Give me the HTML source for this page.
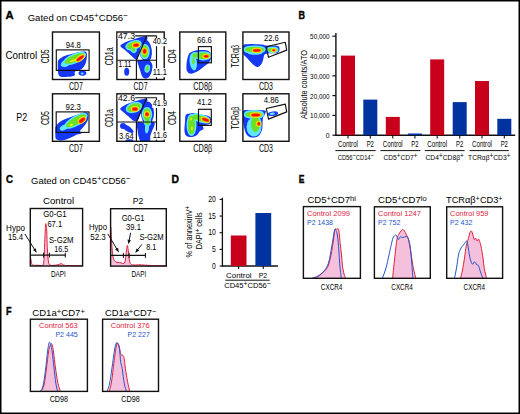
<!DOCTYPE html>
<html><head><meta charset="utf-8"><style>
html,body{margin:0;padding:0;background:#fff;}
body{width:520px;height:414px;overflow:hidden;}
svg{display:block;}
text{font-family:"Liberation Sans",sans-serif;}
</style></head><body>
<svg width="520" height="414" viewBox="0 0 520 414">
<defs><filter id="soft" x="-5%" y="-5%" width="110%" height="110%"><feGaussianBlur stdDeviation="0.45"/></filter><clipPath id="a00"><rect x="52.50" y="32.00" width="46.90" height="47.50"/></clipPath><clipPath id="a01"><rect x="116.90" y="32.00" width="47.30" height="47.50"/></clipPath><clipPath id="a02"><rect x="179.80" y="32.00" width="46.00" height="47.50"/></clipPath><clipPath id="a03"><rect x="242.90" y="32.00" width="46.10" height="47.50"/></clipPath><clipPath id="a10"><rect x="52.50" y="93.80" width="46.90" height="47.50"/></clipPath><clipPath id="a11"><rect x="116.90" y="93.80" width="47.30" height="47.50"/></clipPath><clipPath id="a12"><rect x="179.80" y="93.80" width="46.00" height="47.50"/></clipPath><clipPath id="a13"><rect x="242.90" y="93.80" width="46.10" height="47.50"/></clipPath></defs>
<rect x="0" y="0" width="520" height="414" fill="#fff"/>
<text x="5.40" y="18.80" font-size="10.40" textLength="8.10" lengthAdjust="spacingAndGlyphs" fill="#000" font-weight="bold" stroke="#000" stroke-width="0.35">A</text><text x="27.70" y="21.00" font-size="9.50" textLength="100.20" lengthAdjust="spacingAndGlyphs">Gated on CD45<tspan font-size="85%" baseline-shift="2.57px">+</tspan>CD56<tspan font-size="85%" baseline-shift="2.57px">−</tspan></text><text x="5.50" y="59.10" font-size="10.00" textLength="31.70" lengthAdjust="spacingAndGlyphs">Control</text><text x="16.20" y="121.10" font-size="10.80" textLength="10.90" lengthAdjust="spacingAndGlyphs">P2</text><g filter="url(#soft)" clip-path="url(#a00)"><path d="M58.30 60.30 C58.95 58.87 60.42 58.20 61.70 57.40 C62.98 56.60 64.40 56.07 66.00 55.50 C67.60 54.93 69.13 54.57 71.30 54.00 C73.47 53.43 76.73 52.50 79.00 52.10 C81.27 51.70 83.60 51.32 84.90 51.60 C86.20 51.88 86.52 52.52 86.80 53.80 C87.08 55.08 86.92 57.42 86.60 59.30 C86.28 61.18 85.83 63.40 84.90 65.10 C83.97 66.80 82.65 68.43 81.00 69.50 C79.35 70.57 76.08 70.50 75.00 71.50 C73.92 72.50 75.67 74.62 74.50 75.50 C73.33 76.38 70.42 76.63 68.00 76.80 C65.58 76.97 61.67 77.30 60.00 76.50 C58.33 75.70 58.37 73.75 58.00 72.00 C57.63 70.25 57.75 67.95 57.80 66.00 C57.85 64.05 57.65 61.73 58.30 60.30Z" fill="#1438f5"/><ellipse cx="82.40" cy="73.10" rx="3.90" ry="2.70" fill="#1438f5"/><ellipse cx="74.60" cy="58.50" rx="10.80" ry="3.50" transform="rotate(-23.0 74.60 58.50)" fill="#60e6ff" stroke="#60e6ff" stroke-width="2.80" stroke-linejoin="round"/><ellipse cx="65.50" cy="63.50" rx="5.00" ry="3.20" transform="rotate(-25.0 65.50 63.50)" fill="#60e6ff"/><ellipse cx="82.20" cy="73.50" rx="1.60" ry="1.10" fill="#60e6ff"/><ellipse cx="74.60" cy="58.50" rx="10.80" ry="3.50" transform="rotate(-23.0 74.60 58.50)" fill="#6ce020"/><ellipse cx="73.00" cy="60.60" rx="3.50" ry="1.00" transform="rotate(-20.0 73.00 60.60)" fill="#f2ee00"/><ellipse cx="80.20" cy="58.20" rx="4.20" ry="1.20" transform="rotate(-36.0 80.20 58.20)" fill="#f2ee00" stroke="#f2ee00" stroke-width="3.00" stroke-linejoin="round"/><ellipse cx="80.20" cy="58.20" rx="4.20" ry="1.20" transform="rotate(-36.0 80.20 58.20)" fill="#ff8400" stroke="#ff8400" stroke-width="1.50" stroke-linejoin="round"/><ellipse cx="80.20" cy="58.20" rx="4.20" ry="1.20" transform="rotate(-36.0 80.20 58.20)" fill="#ff0a00"/></g><g filter="url(#soft)" clip-path="url(#a10)"><path d="M55.50 127.00 C55.95 125.75 56.92 124.58 58.00 123.50 C59.08 122.42 60.33 121.42 62.00 120.50 C63.67 119.58 65.83 118.83 68.00 118.00 C70.17 117.17 72.83 116.25 75.00 115.50 C77.17 114.75 79.17 114.03 81.00 113.50 C82.83 112.97 84.83 112.30 86.00 112.30 C87.17 112.30 87.62 112.72 88.00 113.50 C88.38 114.28 88.38 115.75 88.30 117.00 C88.22 118.25 88.05 119.67 87.50 121.00 C86.95 122.33 85.92 123.75 85.00 125.00 C84.08 126.25 82.83 127.50 82.00 128.50 C81.17 129.50 80.08 130.17 80.00 131.00 C79.92 131.83 82.00 132.92 81.50 133.50 C81.00 134.08 78.58 133.92 77.00 134.50 C75.42 135.08 73.83 136.17 72.00 137.00 C70.17 137.83 68.00 138.92 66.00 139.50 C64.00 140.08 61.67 140.58 60.00 140.50 C58.33 140.42 56.78 139.92 56.00 139.00 C55.22 138.08 55.42 136.33 55.30 135.00 C55.18 133.67 55.27 132.33 55.30 131.00 C55.33 129.67 55.05 128.25 55.50 127.00Z" fill="#1438f5"/><ellipse cx="76.00" cy="120.80" rx="11.50" ry="3.60" transform="rotate(-30.0 76.00 120.80)" fill="#60e6ff" stroke="#60e6ff" stroke-width="2.80" stroke-linejoin="round"/><ellipse cx="64.00" cy="127.50" rx="4.50" ry="2.60" transform="rotate(-28.0 64.00 127.50)" fill="#60e6ff"/><ellipse cx="76.00" cy="120.80" rx="11.50" ry="3.60" transform="rotate(-30.0 76.00 120.80)" fill="#6ce020"/><ellipse cx="71.30" cy="124.80" rx="1.80" ry="1.20" transform="rotate(-20.0 71.30 124.80)" fill="#f2ee00"/><ellipse cx="82.00" cy="120.20" rx="3.40" ry="1.50" transform="rotate(-38.0 82.00 120.20)" fill="#f2ee00" stroke="#f2ee00" stroke-width="3.00" stroke-linejoin="round"/><ellipse cx="82.00" cy="120.20" rx="3.40" ry="1.50" transform="rotate(-38.0 82.00 120.20)" fill="#ff8400" stroke="#ff8400" stroke-width="1.50" stroke-linejoin="round"/><ellipse cx="82.00" cy="120.20" rx="3.40" ry="1.50" transform="rotate(-38.0 82.00 120.20)" fill="#ff0a00"/></g><g filter="url(#soft)" clip-path="url(#a01)"><path d="M120.60 45.30 C121.35 44.38 123.77 43.02 126.00 42.00 C128.23 40.98 131.50 40.03 134.00 39.20 C136.50 38.37 138.92 37.47 141.00 37.00 C143.08 36.53 145.50 35.90 146.50 36.40 C147.50 36.90 148.08 37.73 147.00 40.00 C145.92 42.27 141.58 46.92 140.00 50.00 C138.42 53.08 138.33 57.00 137.50 58.50 C136.67 60.00 136.25 59.67 135.00 59.00 C133.75 58.33 131.67 56.00 130.00 54.50 C128.33 53.00 126.42 51.17 125.00 50.00 C123.58 48.83 122.23 48.28 121.50 47.50 C120.77 46.72 119.85 46.22 120.60 45.30Z" fill="#1438f5"/><ellipse cx="145.50" cy="50.50" rx="6.30" ry="11.50" transform="rotate(-8.0 145.50 50.50)" fill="#1438f5"/><path d="M137.50 60.30 C138.33 59.68 140.92 60.18 143.00 60.30 C145.08 60.42 148.42 60.05 150.00 61.00 C151.58 61.95 152.25 64.17 152.50 66.00 C152.75 67.83 152.08 70.17 151.50 72.00 C150.92 73.83 150.08 75.92 149.00 77.00 C147.92 78.08 146.17 78.67 145.00 78.50 C143.83 78.33 142.83 77.42 142.00 76.00 C141.17 74.58 140.67 72.00 140.00 70.00 C139.33 68.00 138.42 65.62 138.00 64.00 C137.58 62.38 136.67 60.92 137.50 60.30Z" fill="#1438f5"/><ellipse cx="126.70" cy="71.80" rx="2.50" ry="4.00" fill="#1438f5"/><ellipse cx="133.50" cy="45.20" rx="7.00" ry="3.40" transform="rotate(-18.0 133.50 45.20)" fill="#60e6ff" stroke="#60e6ff" stroke-width="2.80" stroke-linejoin="round"/><ellipse cx="144.80" cy="51.50" rx="3.60" ry="6.30" fill="#60e6ff" stroke="#60e6ff" stroke-width="2.80" stroke-linejoin="round"/><ellipse cx="147.30" cy="68.60" rx="1.40" ry="2.80" transform="rotate(10.0 147.30 68.60)" fill="#60e6ff" stroke="#60e6ff" stroke-width="2.80" stroke-linejoin="round"/><ellipse cx="133.50" cy="50.00" rx="2.00" ry="1.50" transform="rotate(30.0 133.50 50.00)" fill="#60e6ff" stroke="#60e6ff" stroke-width="2.80" stroke-linejoin="round"/><ellipse cx="133.50" cy="45.20" rx="7.00" ry="3.40" transform="rotate(-18.0 133.50 45.20)" fill="#6ce020"/><ellipse cx="144.80" cy="51.50" rx="3.60" ry="6.30" fill="#6ce020"/><ellipse cx="147.30" cy="68.60" rx="1.40" ry="2.80" transform="rotate(10.0 147.30 68.60)" fill="#6ce020"/><ellipse cx="133.50" cy="50.00" rx="2.00" ry="1.50" transform="rotate(30.0 133.50 50.00)" fill="#6ce020"/><ellipse cx="136.00" cy="45.20" rx="2.80" ry="1.30" transform="rotate(-5.0 136.00 45.20)" fill="#f2ee00" stroke="#f2ee00" stroke-width="3.00" stroke-linejoin="round"/><ellipse cx="144.60" cy="51.20" rx="1.50" ry="2.20" fill="#f2ee00" stroke="#f2ee00" stroke-width="3.00" stroke-linejoin="round"/><ellipse cx="136.00" cy="45.20" rx="2.80" ry="1.30" transform="rotate(-5.0 136.00 45.20)" fill="#ff8400" stroke="#ff8400" stroke-width="1.50" stroke-linejoin="round"/><ellipse cx="144.60" cy="51.20" rx="1.50" ry="2.20" fill="#ff8400" stroke="#ff8400" stroke-width="1.50" stroke-linejoin="round"/><ellipse cx="136.00" cy="45.20" rx="2.80" ry="1.30" transform="rotate(-5.0 136.00 45.20)" fill="#ff0a00"/><ellipse cx="144.60" cy="51.20" rx="1.50" ry="2.20" fill="#ff0a00"/></g><g filter="url(#soft)" clip-path="url(#a11)"><path d="M120.40 108.30 C121.07 107.22 123.73 105.63 126.00 104.50 C128.27 103.37 131.50 102.33 134.00 101.50 C136.50 100.67 138.92 100.00 141.00 99.50 C143.08 99.00 145.50 98.08 146.50 98.50 C147.50 98.92 147.92 99.75 147.00 102.00 C146.08 104.25 142.50 109.00 141.00 112.00 C139.50 115.00 139.17 118.50 138.00 120.00 C136.83 121.50 135.67 121.67 134.00 121.00 C132.33 120.33 130.00 117.67 128.00 116.00 C126.00 114.33 123.27 112.28 122.00 111.00 C120.73 109.72 119.73 109.38 120.40 108.30Z" fill="#1438f5"/><ellipse cx="147.50" cy="113.00" rx="6.50" ry="11.50" fill="#1438f5"/><path d="M137.20 122.50 C138.45 121.25 142.20 122.58 145.00 122.50 C147.80 122.42 152.47 121.42 154.00 122.00 C155.53 122.58 154.53 124.50 154.20 126.00 C153.87 127.50 152.65 129.33 152.00 131.00 C151.35 132.67 150.72 134.25 150.30 136.00 C149.88 137.75 151.05 140.58 149.50 141.50 C147.95 142.42 142.83 142.42 141.00 141.50 C139.17 140.58 139.08 137.92 138.50 136.00 C137.92 134.08 137.72 132.25 137.50 130.00 C137.28 127.75 135.95 123.75 137.20 122.50Z" fill="#1438f5"/><ellipse cx="127.50" cy="128.50" rx="7.00" ry="2.60" transform="rotate(33.0 127.50 128.50)" fill="#1438f5"/><ellipse cx="123.00" cy="126.00" rx="3.00" ry="3.00" fill="#1438f5"/><ellipse cx="129.50" cy="140.50" rx="4.00" ry="1.20" fill="#1438f5"/><ellipse cx="134.00" cy="107.50" rx="7.20" ry="3.80" transform="rotate(-18.0 134.00 107.50)" fill="#60e6ff" stroke="#60e6ff" stroke-width="2.80" stroke-linejoin="round"/><ellipse cx="147.00" cy="114.50" rx="3.80" ry="6.20" fill="#60e6ff" stroke="#60e6ff" stroke-width="2.80" stroke-linejoin="round"/><ellipse cx="147.50" cy="122.00" rx="2.20" ry="3.00" fill="#60e6ff" stroke="#60e6ff" stroke-width="2.80" stroke-linejoin="round"/><ellipse cx="147.00" cy="128.00" rx="2.00" ry="5.50" transform="rotate(5.0 147.00 128.00)" fill="#60e6ff"/><ellipse cx="134.00" cy="107.50" rx="7.20" ry="3.80" transform="rotate(-18.0 134.00 107.50)" fill="#6ce020"/><ellipse cx="147.00" cy="114.50" rx="3.80" ry="6.20" fill="#6ce020"/><ellipse cx="147.50" cy="122.00" rx="2.20" ry="3.00" fill="#6ce020"/><ellipse cx="134.90" cy="108.90" rx="2.60" ry="1.50" fill="#f2ee00" stroke="#f2ee00" stroke-width="3.00" stroke-linejoin="round"/><ellipse cx="147.00" cy="114.30" rx="1.50" ry="1.80" fill="#f2ee00" stroke="#f2ee00" stroke-width="3.00" stroke-linejoin="round"/><ellipse cx="134.90" cy="108.90" rx="2.60" ry="1.50" fill="#ff8400" stroke="#ff8400" stroke-width="1.50" stroke-linejoin="round"/><ellipse cx="147.00" cy="114.30" rx="1.50" ry="1.80" fill="#ff8400" stroke="#ff8400" stroke-width="1.50" stroke-linejoin="round"/><ellipse cx="134.90" cy="108.90" rx="2.60" ry="1.50" fill="#ff0a00"/><ellipse cx="147.00" cy="114.30" rx="1.50" ry="1.80" fill="#ff0a00"/></g><g filter="url(#soft)" clip-path="url(#a02)"><path d="M191.00 52.30 C192.17 51.72 194.00 50.88 196.00 50.50 C198.00 50.12 201.00 49.95 203.00 50.00 C205.00 50.05 206.67 50.13 208.00 50.80 C209.33 51.47 210.50 52.80 211.00 54.00 C211.50 55.20 211.33 56.58 211.00 58.00 C210.67 59.42 210.17 61.08 209.00 62.50 C207.83 63.92 205.83 65.08 204.00 66.50 C202.17 67.92 200.17 69.78 198.00 71.00 C195.83 72.22 192.83 73.80 191.00 73.80 C189.17 73.80 187.75 72.47 187.00 71.00 C186.25 69.53 186.42 67.17 186.50 65.00 C186.58 62.83 187.08 59.83 187.50 58.00 C187.92 56.17 188.42 54.95 189.00 54.00 C189.58 53.05 189.83 52.88 191.00 52.30Z" fill="#1438f5"/><ellipse cx="203.20" cy="55.80" rx="7.00" ry="3.20" fill="#60e6ff" stroke="#60e6ff" stroke-width="2.80" stroke-linejoin="round"/><ellipse cx="195.00" cy="55.50" rx="2.60" ry="2.20" fill="#60e6ff" stroke="#60e6ff" stroke-width="2.80" stroke-linejoin="round"/><ellipse cx="193.50" cy="61.00" rx="1.20" ry="3.50" fill="#60e6ff" stroke="#60e6ff" stroke-width="2.80" stroke-linejoin="round"/><ellipse cx="193.20" cy="62.00" rx="3.60" ry="8.50" transform="rotate(-8.0 193.20 62.00)" fill="#60e6ff"/><ellipse cx="203.20" cy="55.80" rx="7.00" ry="3.20" fill="#6ce020"/><ellipse cx="195.00" cy="55.50" rx="2.60" ry="2.20" fill="#6ce020"/><ellipse cx="193.50" cy="61.00" rx="1.20" ry="3.50" fill="#6ce020"/><ellipse cx="206.20" cy="56.30" rx="2.30" ry="1.10" fill="#f2ee00" stroke="#f2ee00" stroke-width="3.00" stroke-linejoin="round"/><ellipse cx="206.20" cy="56.30" rx="2.30" ry="1.10" fill="#ff8400" stroke="#ff8400" stroke-width="1.50" stroke-linejoin="round"/><ellipse cx="206.20" cy="56.30" rx="2.30" ry="1.10" fill="#ff0a00"/></g><g filter="url(#soft)" clip-path="url(#a12)"><path d="M185.80 115.00 C186.63 113.58 188.30 113.75 190.00 113.50 C191.70 113.25 194.17 113.25 196.00 113.50 C197.83 113.75 199.17 114.67 201.00 115.00 C202.83 115.33 205.33 115.00 207.00 115.50 C208.67 116.00 210.25 116.92 211.00 118.00 C211.75 119.08 212.00 120.92 211.50 122.00 C211.00 123.08 209.42 123.92 208.00 124.50 C206.58 125.08 203.75 124.75 203.00 125.50 C202.25 126.25 204.00 128.08 203.50 129.00 C203.00 129.92 201.08 130.00 200.00 131.00 C198.92 132.00 198.33 134.00 197.00 135.00 C195.67 136.00 193.75 136.83 192.00 137.00 C190.25 137.17 187.75 137.00 186.50 136.00 C185.25 135.00 184.75 133.33 184.50 131.00 C184.25 128.67 184.78 124.67 185.00 122.00 C185.22 119.33 184.97 116.42 185.80 115.00Z" fill="#1438f5"/><ellipse cx="191.50" cy="125.00" rx="3.60" ry="9.50" fill="#60e6ff" stroke="#60e6ff" stroke-width="2.80" stroke-linejoin="round"/><ellipse cx="202.00" cy="118.80" rx="7.00" ry="2.80" transform="rotate(15.0 202.00 118.80)" fill="#60e6ff" stroke="#60e6ff" stroke-width="2.80" stroke-linejoin="round"/><ellipse cx="196.00" cy="117.00" rx="3.00" ry="2.50" fill="#60e6ff" stroke="#60e6ff" stroke-width="2.80" stroke-linejoin="round"/><ellipse cx="191.50" cy="125.00" rx="3.60" ry="9.50" fill="#6ce020"/><ellipse cx="202.00" cy="118.80" rx="7.00" ry="2.80" transform="rotate(15.0 202.00 118.80)" fill="#6ce020"/><ellipse cx="196.00" cy="117.00" rx="3.00" ry="2.50" fill="#6ce020"/><ellipse cx="191.00" cy="119.00" rx="0.90" ry="1.50" fill="#f2ee00"/><ellipse cx="192.00" cy="128.50" rx="0.90" ry="2.00" fill="#f2ee00"/><ellipse cx="205.60" cy="119.80" rx="3.40" ry="1.30" transform="rotate(20.0 205.60 119.80)" fill="#f2ee00" stroke="#f2ee00" stroke-width="3.00" stroke-linejoin="round"/><ellipse cx="205.60" cy="119.80" rx="3.40" ry="1.30" transform="rotate(20.0 205.60 119.80)" fill="#ff8400" stroke="#ff8400" stroke-width="1.50" stroke-linejoin="round"/><ellipse cx="205.60" cy="119.80" rx="3.40" ry="1.30" transform="rotate(20.0 205.60 119.80)" fill="#ff0a00"/></g><g filter="url(#soft)" clip-path="url(#a03)"><path d="M243.00 45.50 C243.75 43.87 246.00 44.42 248.00 44.20 C250.00 43.98 252.67 44.15 255.00 44.20 C257.33 44.25 260.17 44.27 262.00 44.50 C263.83 44.73 264.33 45.43 266.00 45.60 C267.67 45.77 270.00 45.43 272.00 45.50 C274.00 45.57 276.75 45.50 278.00 46.00 C279.25 46.50 279.33 47.58 279.50 48.50 C279.67 49.42 279.58 50.72 279.00 51.50 C278.42 52.28 277.83 52.88 276.00 53.20 C274.17 53.52 269.92 53.18 268.00 53.40 C266.08 53.62 265.25 53.73 264.50 54.50 C263.75 55.27 263.92 56.58 263.50 58.00 C263.08 59.42 262.83 61.53 262.00 63.00 C261.17 64.47 259.67 66.30 258.50 66.80 C257.33 67.30 256.25 66.72 255.00 66.00 C253.75 65.28 252.33 63.83 251.00 62.50 C249.67 61.17 248.25 59.42 247.00 58.00 C245.75 56.58 244.17 56.08 243.50 54.00 C242.83 51.92 242.25 47.13 243.00 45.50Z" fill="#1438f5"/><ellipse cx="254.50" cy="49.60" rx="9.80" ry="2.80" fill="#60e6ff" stroke="#60e6ff" stroke-width="2.80" stroke-linejoin="round"/><ellipse cx="272.50" cy="49.80" rx="4.60" ry="2.00" fill="#60e6ff" stroke="#60e6ff" stroke-width="2.80" stroke-linejoin="round"/><ellipse cx="255.00" cy="53.00" rx="7.00" ry="1.80" fill="#60e6ff"/><ellipse cx="254.50" cy="49.60" rx="9.80" ry="2.80" fill="#6ce020"/><ellipse cx="272.50" cy="49.80" rx="4.60" ry="2.00" fill="#6ce020"/><ellipse cx="256.80" cy="50.40" rx="3.60" ry="1.10" fill="#f2ee00" stroke="#f2ee00" stroke-width="3.00" stroke-linejoin="round"/><ellipse cx="273.80" cy="50.20" rx="1.30" ry="0.80" fill="#f2ee00" stroke="#f2ee00" stroke-width="3.00" stroke-linejoin="round"/><ellipse cx="256.80" cy="50.40" rx="3.60" ry="1.10" fill="#ff8400" stroke="#ff8400" stroke-width="1.50" stroke-linejoin="round"/><ellipse cx="273.80" cy="50.20" rx="1.30" ry="0.80" fill="#ff8400" stroke="#ff8400" stroke-width="1.50" stroke-linejoin="round"/><ellipse cx="256.80" cy="50.40" rx="3.60" ry="1.10" fill="#ff0a00"/><ellipse cx="273.80" cy="50.20" rx="1.30" ry="0.80" fill="#ff0a00"/></g><g filter="url(#soft)" clip-path="url(#a13)"><path d="M243.00 111.00 C244.17 109.35 247.50 110.25 250.00 110.10 C252.50 109.95 255.43 109.98 258.00 110.10 C260.57 110.22 264.23 110.15 265.40 110.80 C266.57 111.45 265.40 112.80 265.00 114.00 C264.60 115.20 263.42 116.33 263.00 118.00 C262.58 119.67 262.67 122.00 262.50 124.00 C262.33 126.00 262.67 128.00 262.00 130.00 C261.33 132.00 260.17 134.75 258.50 136.00 C256.83 137.25 253.92 137.67 252.00 137.50 C250.08 137.33 248.25 136.42 247.00 135.00 C245.75 133.58 245.17 131.50 244.50 129.00 C243.83 126.50 243.25 123.00 243.00 120.00 C242.75 117.00 241.83 112.65 243.00 111.00Z" fill="#1438f5"/><ellipse cx="273.00" cy="113.70" rx="5.20" ry="2.20" transform="rotate(-8.0 273.00 113.70)" fill="#1438f5"/><ellipse cx="254.00" cy="114.50" rx="8.80" ry="3.00" fill="#60e6ff" stroke="#60e6ff" stroke-width="2.80" stroke-linejoin="round"/><ellipse cx="255.50" cy="124.00" rx="4.50" ry="8.00" fill="#60e6ff" stroke="#60e6ff" stroke-width="2.80" stroke-linejoin="round"/><ellipse cx="272.30" cy="113.70" rx="2.60" ry="1.20" transform="rotate(-8.0 272.30 113.70)" fill="#60e6ff"/><ellipse cx="254.00" cy="127.00" rx="7.50" ry="9.50" fill="#60e6ff"/><ellipse cx="254.00" cy="114.50" rx="8.80" ry="3.00" fill="#6ce020"/><ellipse cx="255.50" cy="124.00" rx="4.50" ry="8.00" fill="#6ce020"/><ellipse cx="255.70" cy="115.00" rx="4.40" ry="1.30" fill="#f2ee00" stroke="#f2ee00" stroke-width="3.00" stroke-linejoin="round"/><ellipse cx="258.80" cy="123.80" rx="1.20" ry="1.50" fill="#f2ee00" stroke="#f2ee00" stroke-width="3.00" stroke-linejoin="round"/><ellipse cx="255.70" cy="115.00" rx="4.40" ry="1.30" fill="#ff8400" stroke="#ff8400" stroke-width="1.50" stroke-linejoin="round"/><ellipse cx="258.80" cy="123.80" rx="1.20" ry="1.50" fill="#ff8400" stroke="#ff8400" stroke-width="1.50" stroke-linejoin="round"/><ellipse cx="255.70" cy="115.00" rx="4.40" ry="1.30" fill="#ff0a00"/><ellipse cx="258.80" cy="123.80" rx="1.20" ry="1.50" fill="#ff0a00"/></g><rect x="52.50" y="32.00" width="46.90" height="47.50" fill="none" stroke="#111" stroke-width="1.40"/><text x="75.95" y="90.30" font-size="10.20" text-anchor="middle" textLength="13.90" lengthAdjust="spacingAndGlyphs">CD7</text><text transform="translate(48.60 56.30) rotate(-90)" font-size="10.20" text-anchor="middle" textLength="14.00" lengthAdjust="spacingAndGlyphs">CD5</text><rect x="116.90" y="32.00" width="47.30" height="47.50" fill="none" stroke="#111" stroke-width="1.40"/><text x="140.55" y="90.30" font-size="10.20" text-anchor="middle" textLength="13.90" lengthAdjust="spacingAndGlyphs">CD7</text><text transform="translate(113.00 56.30) rotate(-90)" font-size="10.20" text-anchor="middle" textLength="18.00" lengthAdjust="spacingAndGlyphs">CD1a</text><rect x="179.80" y="32.00" width="46.00" height="47.50" fill="none" stroke="#111" stroke-width="1.40"/><text x="202.80" y="90.30" font-size="10.20" text-anchor="middle" textLength="19.00" lengthAdjust="spacingAndGlyphs">CD8β</text><text transform="translate(175.90 56.30) rotate(-90)" font-size="10.20" text-anchor="middle" textLength="14.00" lengthAdjust="spacingAndGlyphs">CD4</text><rect x="242.90" y="32.00" width="46.10" height="47.50" fill="none" stroke="#111" stroke-width="1.40"/><text x="265.95" y="90.30" font-size="10.20" text-anchor="middle" textLength="14.00" lengthAdjust="spacingAndGlyphs">CD3</text><text transform="translate(239.00 56.30) rotate(-90)" font-size="10.20" text-anchor="middle" textLength="22.80" lengthAdjust="spacingAndGlyphs">TCRαβ</text><rect x="52.50" y="93.80" width="46.90" height="47.50" fill="none" stroke="#111" stroke-width="1.40"/><text x="75.95" y="152.10" font-size="10.20" text-anchor="middle" textLength="13.90" lengthAdjust="spacingAndGlyphs">CD7</text><text transform="translate(48.60 118.10) rotate(-90)" font-size="10.20" text-anchor="middle" textLength="14.00" lengthAdjust="spacingAndGlyphs">CD5</text><rect x="116.90" y="93.80" width="47.30" height="47.50" fill="none" stroke="#111" stroke-width="1.40"/><text x="140.55" y="152.10" font-size="10.20" text-anchor="middle" textLength="13.90" lengthAdjust="spacingAndGlyphs">CD7</text><text transform="translate(113.00 118.10) rotate(-90)" font-size="10.20" text-anchor="middle" textLength="18.00" lengthAdjust="spacingAndGlyphs">CD1a</text><rect x="179.80" y="93.80" width="46.00" height="47.50" fill="none" stroke="#111" stroke-width="1.40"/><text x="202.80" y="152.10" font-size="10.20" text-anchor="middle" textLength="19.00" lengthAdjust="spacingAndGlyphs">CD8β</text><text transform="translate(175.90 118.10) rotate(-90)" font-size="10.20" text-anchor="middle" textLength="14.00" lengthAdjust="spacingAndGlyphs">CD4</text><rect x="242.90" y="93.80" width="46.10" height="47.50" fill="none" stroke="#111" stroke-width="1.40"/><text x="265.95" y="152.10" font-size="10.20" text-anchor="middle" textLength="14.00" lengthAdjust="spacingAndGlyphs">CD3</text><text transform="translate(239.00 118.10) rotate(-90)" font-size="10.20" text-anchor="middle" textLength="22.80" lengthAdjust="spacingAndGlyphs">TCRαβ</text><rect x="56.30" y="49.90" width="32.80" height="20.50" fill="none" stroke="#111" stroke-width="1.15"/><rect x="56.20" y="111.90" width="32.80" height="20.50" fill="none" stroke="#111" stroke-width="1.15"/><text x="73.30" y="47.60" font-size="8.20" text-anchor="middle" textLength="15.10" lengthAdjust="spacingAndGlyphs">94.8</text><text x="73.20" y="109.50" font-size="8.20" text-anchor="middle" textLength="15.30" lengthAdjust="spacingAndGlyphs">92.3</text><line x1="116.90" y1="60.20" x2="156.50" y2="60.20" stroke="#111" stroke-width="1.15" stroke-linecap="butt"/><line x1="136.40" y1="60.20" x2="136.40" y2="79.50" stroke="#111" stroke-width="1.15" stroke-linecap="butt"/><line x1="136.40" y1="60.20" x2="146.70" y2="35.90" stroke="#111" stroke-width="1.15" stroke-linecap="butt"/><line x1="117.50" y1="35.90" x2="156.50" y2="35.90" stroke="#111" stroke-width="1.15" stroke-linecap="butt"/><line x1="156.50" y1="35.90" x2="156.50" y2="79.50" stroke="#111" stroke-width="1.15" stroke-linecap="butt"/><rect x="117.6" y="33.40" width="17.6" height="5.6" fill="#fff"/><rect x="152.2" y="38.20" width="15" height="8" fill="#fff"/><rect x="152.2" y="68.20" width="15" height="9.0" fill="#fff"/><text x="118.00" y="38.80" font-size="8.20" textLength="17.00" lengthAdjust="spacingAndGlyphs">47.3</text><text x="152.80" y="44.20" font-size="8.20" textLength="14.20" lengthAdjust="spacingAndGlyphs">40.2</text><text x="118.60" y="66.70" font-size="8.20" textLength="12.80" lengthAdjust="spacingAndGlyphs">1.11</text><text x="152.80" y="75.20" font-size="8.20" textLength="14.30" lengthAdjust="spacingAndGlyphs">11.1</text><line x1="116.90" y1="122.00" x2="156.50" y2="122.00" stroke="#111" stroke-width="1.15" stroke-linecap="butt"/><line x1="136.40" y1="122.00" x2="136.40" y2="141.30" stroke="#111" stroke-width="1.15" stroke-linecap="butt"/><line x1="136.40" y1="122.00" x2="146.70" y2="97.70" stroke="#111" stroke-width="1.15" stroke-linecap="butt"/><line x1="117.50" y1="97.70" x2="156.50" y2="97.70" stroke="#111" stroke-width="1.15" stroke-linecap="butt"/><line x1="156.50" y1="97.70" x2="156.50" y2="141.30" stroke="#111" stroke-width="1.15" stroke-linecap="butt"/><rect x="117.6" y="95.20" width="17.6" height="5.6" fill="#fff"/><rect x="152.2" y="100.00" width="15" height="8" fill="#fff"/><rect x="152.2" y="130.60" width="15" height="9.0" fill="#fff"/><text x="118.00" y="100.60" font-size="8.20" textLength="17.00" lengthAdjust="spacingAndGlyphs">42.6</text><text x="152.80" y="106.00" font-size="8.20" textLength="14.20" lengthAdjust="spacingAndGlyphs">41.9</text><text x="118.90" y="138.50" font-size="8.20" textLength="14.70" lengthAdjust="spacingAndGlyphs">3.64</text><text x="152.80" y="137.60" font-size="8.20" textLength="14.30" lengthAdjust="spacingAndGlyphs">11.6</text><rect x="198.40" y="46.60" width="13.00" height="16.20" fill="none" stroke="#111" stroke-width="1.15"/><rect x="198.50" y="109.30" width="12.80" height="16.10" fill="none" stroke="#111" stroke-width="1.15"/><text x="204.40" y="42.60" font-size="8.20" text-anchor="middle" textLength="15.00" lengthAdjust="spacingAndGlyphs">66.6</text><text x="204.40" y="105.40" font-size="8.20" text-anchor="middle" textLength="15.00" lengthAdjust="spacingAndGlyphs">41.2</text><path d="M266.30 46.70 L285.30 42.30 L286.70 50.10 L268.50 57.30 Z" fill="none" stroke="#111" stroke-width="1.15" stroke-linejoin="round"/><path d="M266.30 108.50 L285.30 104.10 L286.70 111.90 L268.50 119.10 Z" fill="none" stroke="#111" stroke-width="1.15" stroke-linejoin="round"/><text x="271.40" y="41.40" font-size="8.20" text-anchor="middle" textLength="14.90" lengthAdjust="spacingAndGlyphs">22.6</text><text x="271.30" y="103.40" font-size="8.20" text-anchor="middle" textLength="15.20" lengthAdjust="spacingAndGlyphs">4.86</text><text x="298.60" y="18.60" font-size="10.40" textLength="6.50" lengthAdjust="spacingAndGlyphs" fill="#000" font-weight="bold" stroke="#000" stroke-width="0.35">B</text><line x1="335.90" y1="33.00" x2="335.90" y2="135.80" stroke="#111" stroke-width="1.40" stroke-linecap="butt"/><line x1="335.20" y1="135.20" x2="515.20" y2="135.20" stroke="#111" stroke-width="1.40" stroke-linecap="butt"/><line x1="332.40" y1="135.20" x2="335.90" y2="135.20" stroke="#111" stroke-width="1.20" stroke-linecap="butt"/><text x="329.60" y="138.20" font-size="7.80" text-anchor="end" textLength="3.80" lengthAdjust="spacingAndGlyphs">0</text><line x1="332.40" y1="115.40" x2="335.90" y2="115.40" stroke="#111" stroke-width="1.20" stroke-linecap="butt"/><text x="329.60" y="118.40" font-size="7.80" text-anchor="end" textLength="19.50" lengthAdjust="spacingAndGlyphs">10,000</text><line x1="332.40" y1="95.60" x2="335.90" y2="95.60" stroke="#111" stroke-width="1.20" stroke-linecap="butt"/><text x="329.60" y="98.60" font-size="7.80" text-anchor="end" textLength="19.50" lengthAdjust="spacingAndGlyphs">20,000</text><line x1="332.40" y1="75.80" x2="335.90" y2="75.80" stroke="#111" stroke-width="1.20" stroke-linecap="butt"/><text x="329.60" y="78.80" font-size="7.80" text-anchor="end" textLength="19.50" lengthAdjust="spacingAndGlyphs">30,000</text><line x1="332.40" y1="56.00" x2="335.90" y2="56.00" stroke="#111" stroke-width="1.20" stroke-linecap="butt"/><text x="329.60" y="59.00" font-size="7.80" text-anchor="end" textLength="19.50" lengthAdjust="spacingAndGlyphs">40,000</text><line x1="332.40" y1="36.20" x2="335.90" y2="36.20" stroke="#111" stroke-width="1.20" stroke-linecap="butt"/><text x="329.60" y="39.20" font-size="7.80" text-anchor="end" textLength="19.50" lengthAdjust="spacingAndGlyphs">50,000</text><text transform="translate(306.80 84.50) rotate(-90)" font-size="8.40" text-anchor="middle" textLength="69.00" lengthAdjust="spacingAndGlyphs">Absolute counts/ATO</text><rect x="341.00" y="55.60" width="14.00" height="79.60" fill="#c8001c"/><rect x="385.80" y="116.90" width="14.00" height="18.30" fill="#c8001c"/><rect x="430.20" y="59.40" width="14.00" height="75.80" fill="#c8001c"/><rect x="475.00" y="81.00" width="14.00" height="54.20" fill="#c8001c"/><rect x="363.30" y="99.60" width="14.00" height="35.60" fill="#0033a0"/><rect x="407.90" y="133.50" width="14.00" height="1.70" fill="#0033a0"/><rect x="452.70" y="102.10" width="14.00" height="33.10" fill="#0033a0"/><rect x="497.30" y="118.80" width="14.00" height="16.40" fill="#0033a0"/><line x1="348.00" y1="135.20" x2="348.00" y2="138.40" stroke="#111" stroke-width="1.10" stroke-linecap="butt"/><line x1="392.80" y1="135.20" x2="392.80" y2="138.40" stroke="#111" stroke-width="1.10" stroke-linecap="butt"/><line x1="437.20" y1="135.20" x2="437.20" y2="138.40" stroke="#111" stroke-width="1.10" stroke-linecap="butt"/><line x1="482.00" y1="135.20" x2="482.00" y2="138.40" stroke="#111" stroke-width="1.10" stroke-linecap="butt"/><line x1="370.30" y1="135.20" x2="370.30" y2="138.40" stroke="#111" stroke-width="1.10" stroke-linecap="butt"/><line x1="414.90" y1="135.20" x2="414.90" y2="138.40" stroke="#111" stroke-width="1.10" stroke-linecap="butt"/><line x1="459.70" y1="135.20" x2="459.70" y2="138.40" stroke="#111" stroke-width="1.10" stroke-linecap="butt"/><line x1="504.30" y1="135.20" x2="504.30" y2="138.40" stroke="#111" stroke-width="1.10" stroke-linecap="butt"/><text x="348.00" y="146.90" font-size="8.60" text-anchor="middle" textLength="19.90" lengthAdjust="spacingAndGlyphs">Control</text><text x="392.80" y="146.90" font-size="8.60" text-anchor="middle" textLength="19.90" lengthAdjust="spacingAndGlyphs">Control</text><text x="437.20" y="146.90" font-size="8.60" text-anchor="middle" textLength="19.90" lengthAdjust="spacingAndGlyphs">Control</text><text x="482.00" y="146.90" font-size="8.60" text-anchor="middle" textLength="19.90" lengthAdjust="spacingAndGlyphs">Control</text><text x="370.30" y="146.90" font-size="8.60" text-anchor="middle" textLength="7.30" lengthAdjust="spacingAndGlyphs">P2</text><text x="414.90" y="146.90" font-size="8.60" text-anchor="middle" textLength="7.30" lengthAdjust="spacingAndGlyphs">P2</text><text x="459.70" y="146.90" font-size="8.60" text-anchor="middle" textLength="7.30" lengthAdjust="spacingAndGlyphs">P2</text><text x="504.30" y="146.90" font-size="8.60" text-anchor="middle" textLength="7.30" lengthAdjust="spacingAndGlyphs">P2</text><line x1="335.40" y1="150.60" x2="375.60" y2="150.60" stroke="#111" stroke-width="1.00" stroke-linecap="butt"/><line x1="380.40" y1="150.60" x2="420.40" y2="150.60" stroke="#111" stroke-width="1.00" stroke-linecap="butt"/><line x1="424.80" y1="150.60" x2="464.60" y2="150.60" stroke="#111" stroke-width="1.00" stroke-linecap="butt"/><line x1="469.60" y1="150.60" x2="508.80" y2="150.60" stroke="#111" stroke-width="1.00" stroke-linecap="butt"/><text x="355.75" y="159.70" font-size="7.80" text-anchor="middle" textLength="36.10" lengthAdjust="spacingAndGlyphs">CD56<tspan font-size="95%" baseline-shift="2.34px">−</tspan>CD14<tspan font-size="95%" baseline-shift="2.34px">−</tspan></text><text x="400.50" y="159.70" font-size="7.80" text-anchor="middle" textLength="34.00" lengthAdjust="spacingAndGlyphs">CD5<tspan font-size="95%" baseline-shift="2.34px">+</tspan>CD7<tspan font-size="95%" baseline-shift="2.34px">+</tspan></text><text x="444.60" y="159.70" font-size="7.80" text-anchor="middle" textLength="38.40" lengthAdjust="spacingAndGlyphs">CD4<tspan font-size="95%" baseline-shift="2.34px">+</tspan>CD8β<tspan font-size="95%" baseline-shift="2.34px">+</tspan></text><text x="489.25" y="159.70" font-size="7.80" text-anchor="middle" textLength="42.30" lengthAdjust="spacingAndGlyphs">TCRαβ<tspan font-size="95%" baseline-shift="2.34px">+</tspan>CD3<tspan font-size="95%" baseline-shift="2.34px">+</tspan></text><text x="5.90" y="182.60" font-size="10.40" textLength="7.00" lengthAdjust="spacingAndGlyphs" fill="#000" font-weight="bold" stroke="#000" stroke-width="0.35">C</text><text x="31.00" y="184.40" font-size="9.50" textLength="99.60" lengthAdjust="spacingAndGlyphs">Gated on CD45<tspan font-size="85%" baseline-shift="2.57px">+</tspan>CD56<tspan font-size="85%" baseline-shift="2.57px">−</tspan></text><text x="58.50" y="203.50" font-size="9.60" text-anchor="middle" textLength="31.20" lengthAdjust="spacingAndGlyphs">Control</text><text x="138.00" y="203.50" font-size="9.60" text-anchor="middle" textLength="10.50" lengthAdjust="spacingAndGlyphs">P2</text><path d="M30.90 258.50 C31.02 259.33 31.17 262.37 31.60 263.50 C32.03 264.63 32.43 265.02 33.50 265.30 C34.57 265.58 36.58 265.17 38.00 265.20 C39.42 265.23 41.03 266.03 42.00 265.50 C42.97 264.97 43.37 265.42 43.80 262.00 C44.23 258.58 44.32 251.00 44.60 245.00 C44.88 239.00 45.25 229.43 45.50 226.00 C45.75 222.57 45.90 223.73 46.10 224.40 C46.30 225.07 46.48 225.73 46.70 230.00 C46.92 234.27 47.10 244.67 47.40 250.00 C47.70 255.33 48.07 259.50 48.50 262.00 C48.93 264.50 49.25 264.43 50.00 265.00 C50.75 265.57 51.67 265.43 53.00 265.40 C54.33 265.37 56.62 265.10 58.00 264.80 C59.38 264.50 60.30 263.53 61.30 263.60 C62.30 263.67 62.55 264.87 64.00 265.20 C65.45 265.53 67.00 265.53 70.00 265.60 C73.00 265.67 80.00 265.60 82.00 265.60 L82.00 266.00 L30.90 266.00 Z" fill="#f5c0dc" stroke="none"/><path d="M30.90 258.50 C31.02 259.33 31.17 262.37 31.60 263.50 C32.03 264.63 32.43 265.02 33.50 265.30 C34.57 265.58 36.58 265.17 38.00 265.20 C39.42 265.23 41.03 266.03 42.00 265.50 C42.97 264.97 43.37 265.42 43.80 262.00 C44.23 258.58 44.32 251.00 44.60 245.00 C44.88 239.00 45.25 229.43 45.50 226.00 C45.75 222.57 45.90 223.73 46.10 224.40 C46.30 225.07 46.48 225.73 46.70 230.00 C46.92 234.27 47.10 244.67 47.40 250.00 C47.70 255.33 48.07 259.50 48.50 262.00 C48.93 264.50 49.25 264.43 50.00 265.00 C50.75 265.57 51.67 265.43 53.00 265.40 C54.33 265.37 56.62 265.10 58.00 264.80 C59.38 264.50 60.30 263.53 61.30 263.60 C62.30 263.67 62.55 264.87 64.00 265.20 C65.45 265.53 67.00 265.53 70.00 265.60 C73.00 265.67 80.00 265.60 82.00 265.60" fill="none" stroke="#e0203c" stroke-width="1.00" stroke-linejoin="round"/><path d="M110.90 227.00 C111.00 229.17 111.22 235.50 111.50 240.00 C111.78 244.50 112.18 250.67 112.60 254.00 C113.02 257.33 113.43 258.67 114.00 260.00 C114.57 261.33 115.33 261.58 116.00 262.00 C116.67 262.42 117.17 262.37 118.00 262.50 C118.83 262.63 120.17 262.63 121.00 262.80 C121.83 262.97 122.33 263.63 123.00 263.50 C123.67 263.37 124.45 263.92 125.00 262.00 C125.55 260.08 125.92 254.78 126.30 252.00 C126.68 249.22 126.97 245.47 127.30 245.30 C127.63 245.13 127.93 248.38 128.30 251.00 C128.67 253.62 129.05 258.80 129.50 261.00 C129.95 263.20 130.25 263.53 131.00 264.20 C131.75 264.87 132.50 264.90 134.00 265.00 C135.50 265.10 138.00 264.77 140.00 264.80 C142.00 264.83 143.50 265.07 146.00 265.20 C148.50 265.33 151.67 265.53 155.00 265.60 C158.33 265.67 164.17 265.60 166.00 265.60 L166.00 266.10 L110.90 266.10 Z" fill="#f5c0dc" stroke="none"/><path d="M110.90 227.00 C111.00 229.17 111.22 235.50 111.50 240.00 C111.78 244.50 112.18 250.67 112.60 254.00 C113.02 257.33 113.43 258.67 114.00 260.00 C114.57 261.33 115.33 261.58 116.00 262.00 C116.67 262.42 117.17 262.37 118.00 262.50 C118.83 262.63 120.17 262.63 121.00 262.80 C121.83 262.97 122.33 263.63 123.00 263.50 C123.67 263.37 124.45 263.92 125.00 262.00 C125.55 260.08 125.92 254.78 126.30 252.00 C126.68 249.22 126.97 245.47 127.30 245.30 C127.63 245.13 127.93 248.38 128.30 251.00 C128.67 253.62 129.05 258.80 129.50 261.00 C129.95 263.20 130.25 263.53 131.00 264.20 C131.75 264.87 132.50 264.90 134.00 265.00 C135.50 265.10 138.00 264.77 140.00 264.80 C142.00 264.83 143.50 265.07 146.00 265.20 C148.50 265.33 151.67 265.53 155.00 265.60 C158.33 265.67 164.17 265.60 166.00 265.60" fill="none" stroke="#e0203c" stroke-width="1.00" stroke-linejoin="round"/><rect x="30.30" y="208.50" width="52.30" height="57.50" fill="none" stroke="#111" stroke-width="1.40"/><rect x="110.60" y="208.70" width="55.70" height="57.40" fill="none" stroke="#111" stroke-width="1.40"/><line x1="31.00" y1="255.10" x2="65.50" y2="255.10" stroke="#111" stroke-width="1.10" stroke-linecap="butt"/><line x1="43.60" y1="252.60" x2="43.60" y2="257.60" stroke="#111" stroke-width="1.00" stroke-linecap="butt"/><line x1="49.40" y1="252.60" x2="49.40" y2="257.60" stroke="#111" stroke-width="1.00" stroke-linecap="butt"/><line x1="65.30" y1="252.60" x2="65.30" y2="257.60" stroke="#111" stroke-width="1.00" stroke-linecap="butt"/><line x1="110.90" y1="255.40" x2="145.60" y2="255.40" stroke="#111" stroke-width="1.10" stroke-linecap="butt"/><line x1="123.40" y1="252.90" x2="123.40" y2="257.90" stroke="#111" stroke-width="1.00" stroke-linecap="butt"/><line x1="129.20" y1="252.90" x2="129.20" y2="257.90" stroke="#111" stroke-width="1.00" stroke-linecap="butt"/><line x1="145.40" y1="252.90" x2="145.40" y2="257.90" stroke="#111" stroke-width="1.00" stroke-linecap="butt"/><text x="54.95" y="216.90" font-size="9.00" text-anchor="middle" textLength="23.50" lengthAdjust="spacingAndGlyphs">G0-G1</text><text x="54.80" y="226.75" font-size="9.00" text-anchor="middle" textLength="14.80" lengthAdjust="spacingAndGlyphs">67.1</text><text x="61.20" y="242.70" font-size="9.00" text-anchor="middle" textLength="24.60" lengthAdjust="spacingAndGlyphs">S-G2M</text><text x="61.30" y="252.30" font-size="9.00" text-anchor="middle" textLength="14.20" lengthAdjust="spacingAndGlyphs">16.5</text><text x="15.55" y="230.60" font-size="9.00" text-anchor="middle" textLength="18.90" lengthAdjust="spacingAndGlyphs">Hypo</text><text x="15.50" y="239.90" font-size="9.00" text-anchor="middle" textLength="15.20" lengthAdjust="spacingAndGlyphs">15.4</text><text x="133.15" y="220.80" font-size="9.00" text-anchor="middle" textLength="22.90" lengthAdjust="spacingAndGlyphs">G0-G1</text><text x="133.45" y="230.10" font-size="9.00" text-anchor="middle" textLength="14.90" lengthAdjust="spacingAndGlyphs">39.1</text><text x="151.60" y="240.40" font-size="9.00" text-anchor="middle" textLength="24.40" lengthAdjust="spacingAndGlyphs">S-G2M</text><text x="151.25" y="249.50" font-size="9.00" text-anchor="middle" textLength="10.10" lengthAdjust="spacingAndGlyphs">8.1</text><text x="97.95" y="230.20" font-size="9.00" text-anchor="middle" textLength="18.10" lengthAdjust="spacingAndGlyphs">Hypo</text><text x="98.00" y="239.65" font-size="9.00" text-anchor="middle" textLength="15.60" lengthAdjust="spacingAndGlyphs">52.3</text><line x1="24.80" y1="233.90" x2="34.62" y2="249.50" stroke="#111" stroke-width="1.00" stroke-linecap="butt"/><path d="M36.70 252.80 L32.92 249.98 L35.79 248.17 Z" fill="#111"/><line x1="107.80" y1="233.90" x2="116.89" y2="249.06" stroke="#111" stroke-width="1.00" stroke-linecap="butt"/><path d="M118.90 252.40 L115.18 249.50 L118.09 247.75 Z" fill="#111"/><line x1="130.60" y1="232.80" x2="129.14" y2="240.37" stroke="#111" stroke-width="1.00" stroke-linecap="butt"/><path d="M128.40 244.20 L127.56 239.56 L130.90 240.20 Z" fill="#111"/><line x1="141.80" y1="244.40" x2="137.57" y2="249.91" stroke="#111" stroke-width="1.00" stroke-linecap="butt"/><path d="M135.20 253.00 L136.53 248.47 L139.23 250.54 Z" fill="#111"/><text x="58.40" y="276.60" font-size="8.60" text-anchor="middle" textLength="14.80" lengthAdjust="spacingAndGlyphs">DAPI</text><text x="138.90" y="276.70" font-size="8.60" text-anchor="middle" textLength="14.80" lengthAdjust="spacingAndGlyphs">DAPI</text><text x="171.40" y="183.40" font-size="10.40" textLength="7.50" lengthAdjust="spacingAndGlyphs" fill="#000" font-weight="bold" stroke="#000" stroke-width="0.35">D</text><line x1="222.40" y1="197.70" x2="222.40" y2="266.60" stroke="#111" stroke-width="1.30" stroke-linecap="butt"/><line x1="221.80" y1="266.00" x2="277.90" y2="266.00" stroke="#111" stroke-width="1.30" stroke-linecap="butt"/><line x1="219.60" y1="266.00" x2="222.40" y2="266.00" stroke="#111" stroke-width="1.10" stroke-linecap="butt"/><text x="215.80" y="268.70" font-size="8.40" text-anchor="end" textLength="3.80" lengthAdjust="spacingAndGlyphs">0</text><line x1="219.60" y1="249.35" x2="222.40" y2="249.35" stroke="#111" stroke-width="1.10" stroke-linecap="butt"/><text x="215.80" y="252.05" font-size="8.40" text-anchor="end" textLength="3.80" lengthAdjust="spacingAndGlyphs">5</text><line x1="219.60" y1="232.70" x2="222.40" y2="232.70" stroke="#111" stroke-width="1.10" stroke-linecap="butt"/><text x="215.80" y="235.40" font-size="8.40" text-anchor="end" textLength="7.60" lengthAdjust="spacingAndGlyphs">10</text><line x1="219.60" y1="216.05" x2="222.40" y2="216.05" stroke="#111" stroke-width="1.10" stroke-linecap="butt"/><text x="215.80" y="218.75" font-size="8.40" text-anchor="end" textLength="7.60" lengthAdjust="spacingAndGlyphs">15</text><line x1="219.60" y1="199.40" x2="222.40" y2="199.40" stroke="#111" stroke-width="1.10" stroke-linecap="butt"/><text x="215.80" y="202.10" font-size="8.40" text-anchor="end" textLength="7.60" lengthAdjust="spacingAndGlyphs">20</text><rect x="230.8" y="235.5" width="15.7" height="30.50" fill="#c8001c"/><rect x="255.4" y="213.0" width="15.8" height="53.00" fill="#0033a0"/><line x1="238.60" y1="266.00" x2="238.60" y2="269.00" stroke="#111" stroke-width="1.10" stroke-linecap="butt"/><line x1="263.30" y1="266.00" x2="263.30" y2="269.00" stroke="#111" stroke-width="1.10" stroke-linecap="butt"/><text x="238.80" y="277.50" font-size="7.40" text-anchor="middle" textLength="25.50" lengthAdjust="spacingAndGlyphs">Control</text><text x="262.90" y="277.50" font-size="7.40" text-anchor="middle" textLength="8.40" lengthAdjust="spacingAndGlyphs">P2</text><line x1="225.30" y1="280.20" x2="269.70" y2="280.20" stroke="#111" stroke-width="1.00" stroke-linecap="butt"/><text x="247.50" y="288.10" font-size="8.00" text-anchor="middle" textLength="46.60" lengthAdjust="spacingAndGlyphs">CD45<tspan font-size="90%" baseline-shift="2.40px">+</tspan>CD56<tspan font-size="90%" baseline-shift="2.40px">−</tspan></text><text transform="translate(192.20 231.70) rotate(-90)" font-size="8.40" text-anchor="middle" textLength="51.60" lengthAdjust="spacingAndGlyphs">% of annexinV<tspan font-size="80%" baseline-shift="2.10px">+</tspan></text><text transform="translate(202.40 230.80) rotate(-90)" font-size="8.40" text-anchor="middle" textLength="37.10" lengthAdjust="spacingAndGlyphs">DAPI<tspan font-size="80%" baseline-shift="2.10px">+</tspan> cells</text><text x="298.80" y="183.20" font-size="10.40" textLength="5.70" lengthAdjust="spacingAndGlyphs" fill="#000" font-weight="bold" stroke="#000" stroke-width="0.35">E</text><path d="M313.00 278.30 C313.83 278.00 316.18 277.60 318.00 276.50 C319.82 275.40 322.23 273.45 323.90 271.70 C325.57 269.95 326.82 268.78 328.00 266.00 C329.18 263.22 330.08 259.33 331.00 255.00 C331.92 250.67 332.87 244.17 333.50 240.00 C334.13 235.83 334.30 231.78 334.80 230.00 C335.30 228.22 335.85 229.33 336.50 229.30 C337.15 229.27 338.08 227.43 338.70 229.80 C339.32 232.17 339.73 239.30 340.20 243.50 C340.67 247.70 341.13 251.38 341.50 255.00 C341.87 258.62 341.98 262.03 342.40 265.20 C342.82 268.37 343.45 271.82 344.00 274.00 C344.55 276.18 345.42 277.58 345.70 278.30 L345.70 278.30 L313.00 278.30 Z" fill="#f5c0dc" stroke="none"/><path d="M313.00 278.30 C313.83 278.00 316.18 277.60 318.00 276.50 C319.82 275.40 322.23 273.45 323.90 271.70 C325.57 269.95 326.82 268.78 328.00 266.00 C329.18 263.22 330.08 259.33 331.00 255.00 C331.92 250.67 332.87 244.17 333.50 240.00 C334.13 235.83 334.30 231.78 334.80 230.00 C335.30 228.22 335.85 229.33 336.50 229.30 C337.15 229.27 338.08 227.43 338.70 229.80 C339.32 232.17 339.73 239.30 340.20 243.50 C340.67 247.70 341.13 251.38 341.50 255.00 C341.87 258.62 341.98 262.03 342.40 265.20 C342.82 268.37 343.45 271.82 344.00 274.00 C344.55 276.18 345.42 277.58 345.70 278.30" fill="none" stroke="#e0203c" stroke-width="1.00" stroke-linejoin="round"/><path d="M312.00 278.30 C313.00 277.92 316.00 277.22 318.00 276.00 C320.00 274.78 322.25 273.17 324.00 271.00 C325.75 268.83 327.25 266.83 328.50 263.00 C329.75 259.17 330.67 252.50 331.50 248.00 C332.33 243.50 332.95 239.12 333.50 236.00 C334.05 232.88 334.38 230.22 334.80 229.30 C335.22 228.38 335.55 229.38 336.00 230.50 C336.45 231.62 337.03 232.75 337.50 236.00 C337.97 239.25 338.42 245.17 338.80 250.00 C339.18 254.83 339.38 260.28 339.80 265.00 C340.22 269.72 341.05 276.08 341.30 278.30" fill="none" stroke="#2255cc" stroke-width="1.00" stroke-linejoin="round"/><rect x="303.40" y="206.60" width="57.00" height="71.70" fill="none" stroke="#111" stroke-width="1.40"/><text x="331.65" y="203.40" font-size="8.80" text-anchor="middle" textLength="48.50" lengthAdjust="spacingAndGlyphs">CD5<tspan font-size="80%" baseline-shift="2.20px">+</tspan>CD7<tspan font-size="80%" baseline-shift="2.20px">hi</tspan></text><text x="307.00" y="215.60" font-size="7.60" textLength="43.00" lengthAdjust="spacingAndGlyphs" fill="#e0203c">Control 2099</text><text x="307.00" y="224.60" font-size="7.60" textLength="26.00" lengthAdjust="spacingAndGlyphs" fill="#2255cc">P2 1438</text><text x="331.60" y="289.50" font-size="9.00" text-anchor="middle" textLength="21.50" lengthAdjust="spacingAndGlyphs">CXCR4</text><path d="M392.60 278.30 C392.92 275.25 393.78 266.45 394.50 260.00 C395.22 253.55 396.15 243.93 396.90 239.60 C397.65 235.27 398.32 235.43 399.00 234.00 C399.68 232.57 400.38 231.75 401.00 231.00 C401.62 230.25 402.12 229.50 402.70 229.50 C403.28 229.50 403.87 230.08 404.50 231.00 C405.13 231.92 405.83 233.57 406.50 235.00 C407.17 236.43 407.83 237.10 408.50 239.60 C409.17 242.10 409.77 245.65 410.50 250.00 C411.23 254.35 412.02 260.98 412.90 265.70 C413.78 270.42 415.32 276.20 415.80 278.30 L415.80 278.30 L392.60 278.30 Z" fill="#f5c0dc" stroke="none"/><path d="M392.60 278.30 C392.92 275.25 393.78 266.45 394.50 260.00 C395.22 253.55 396.15 243.93 396.90 239.60 C397.65 235.27 398.32 235.43 399.00 234.00 C399.68 232.57 400.38 231.75 401.00 231.00 C401.62 230.25 402.12 229.50 402.70 229.50 C403.28 229.50 403.87 230.08 404.50 231.00 C405.13 231.92 405.83 233.57 406.50 235.00 C407.17 236.43 407.83 237.10 408.50 239.60 C409.17 242.10 409.77 245.65 410.50 250.00 C411.23 254.35 412.02 260.98 412.90 265.70 C413.78 270.42 415.32 276.20 415.80 278.30" fill="none" stroke="#e0203c" stroke-width="1.00" stroke-linejoin="round"/><path d="M382.40 278.30 C383.00 276.58 384.90 271.88 386.00 268.00 C387.10 264.12 388.15 258.77 389.00 255.00 C389.85 251.23 390.43 248.23 391.10 245.40 C391.77 242.57 392.38 239.65 393.00 238.00 C393.62 236.35 394.25 235.95 394.80 235.50 C395.35 235.05 395.70 234.62 396.30 235.30 C396.90 235.98 397.78 239.32 398.40 239.60 C399.02 239.88 399.23 237.35 400.00 237.00 C400.77 236.65 402.00 237.58 403.00 237.50 C404.00 237.42 405.17 236.42 406.00 236.50 C406.83 236.58 407.33 236.52 408.00 238.00 C408.67 239.48 409.42 241.73 410.00 245.40 C410.58 249.07 411.02 254.52 411.50 260.00 C411.98 265.48 412.67 275.25 412.90 278.30" fill="none" stroke="#2255cc" stroke-width="1.00" stroke-linejoin="round"/><rect x="374.40" y="206.80" width="55.90" height="71.50" fill="none" stroke="#111" stroke-width="1.40"/><text x="402.45" y="203.40" font-size="8.80" text-anchor="middle" textLength="48.70" lengthAdjust="spacingAndGlyphs">CD5<tspan font-size="80%" baseline-shift="2.20px">+</tspan>CD7<tspan font-size="80%" baseline-shift="2.20px">lo</tspan></text><text x="378.10" y="215.60" font-size="7.60" textLength="42.80" lengthAdjust="spacingAndGlyphs" fill="#e0203c">Control 1247</text><text x="378.10" y="224.60" font-size="7.60" textLength="22.20" lengthAdjust="spacingAndGlyphs" fill="#2255cc">P2 752</text><text x="402.05" y="289.50" font-size="9.00" text-anchor="middle" textLength="21.50" lengthAdjust="spacingAndGlyphs">CXCR4</text><path d="M460.50 278.30 C460.83 276.92 461.83 273.38 462.50 270.00 C463.17 266.62 463.88 262.00 464.50 258.00 C465.12 254.00 465.55 249.25 466.20 246.00 C466.85 242.75 467.80 240.67 468.40 238.50 C469.00 236.33 469.32 234.27 469.80 233.00 C470.28 231.73 470.82 230.73 471.30 230.90 C471.78 231.07 472.22 232.55 472.70 234.00 C473.18 235.45 473.72 238.93 474.20 239.60 C474.68 240.27 475.12 237.75 475.60 238.00 C476.08 238.25 476.60 240.93 477.10 241.10 C477.60 241.27 478.12 238.77 478.60 239.00 C479.08 239.23 479.53 240.95 480.00 242.50 C480.47 244.05 480.90 245.72 481.40 248.30 C481.90 250.88 482.52 254.62 483.00 258.00 C483.48 261.38 483.70 265.22 484.30 268.60 C484.90 271.98 486.22 276.68 486.60 278.30 L486.60 278.30 L460.50 278.30 Z" fill="#f5c0dc" stroke="none"/><path d="M460.50 278.30 C460.83 276.92 461.83 273.38 462.50 270.00 C463.17 266.62 463.88 262.00 464.50 258.00 C465.12 254.00 465.55 249.25 466.20 246.00 C466.85 242.75 467.80 240.67 468.40 238.50 C469.00 236.33 469.32 234.27 469.80 233.00 C470.28 231.73 470.82 230.73 471.30 230.90 C471.78 231.07 472.22 232.55 472.70 234.00 C473.18 235.45 473.72 238.93 474.20 239.60 C474.68 240.27 475.12 237.75 475.60 238.00 C476.08 238.25 476.60 240.93 477.10 241.10 C477.60 241.27 478.12 238.77 478.60 239.00 C479.08 239.23 479.53 240.95 480.00 242.50 C480.47 244.05 480.90 245.72 481.40 248.30 C481.90 250.88 482.52 254.62 483.00 258.00 C483.48 261.38 483.70 265.22 484.30 268.60 C484.90 271.98 486.22 276.68 486.60 278.30" fill="none" stroke="#e0203c" stroke-width="1.00" stroke-linejoin="round"/><path d="M454.50 278.30 C454.83 276.58 455.83 271.88 456.50 268.00 C457.17 264.12 457.83 258.17 458.50 255.00 C459.17 251.83 459.83 250.50 460.50 249.00 C461.17 247.50 461.83 246.92 462.50 246.00 C463.17 245.08 463.77 244.32 464.50 243.50 C465.23 242.68 466.27 240.35 466.90 241.10 C467.53 241.85 467.82 245.35 468.30 248.00 C468.78 250.65 469.32 254.67 469.80 257.00 C470.28 259.33 470.72 260.78 471.20 262.00 C471.68 263.22 472.20 264.30 472.70 264.30 C473.20 264.30 473.72 262.25 474.20 262.00 C474.68 261.75 475.13 262.30 475.60 262.80 C476.07 263.30 476.52 264.52 477.00 265.00 C477.48 265.48 477.92 264.53 478.50 265.70 C479.08 266.87 479.77 269.90 480.50 272.00 C481.23 274.10 482.50 277.25 482.90 278.30" fill="none" stroke="#2255cc" stroke-width="1.00" stroke-linejoin="round"/><rect x="446.70" y="206.80" width="55.90" height="71.50" fill="none" stroke="#111" stroke-width="1.40"/><text x="474.35" y="203.40" font-size="8.80" text-anchor="middle" textLength="56.50" lengthAdjust="spacingAndGlyphs">TCRαβ<tspan font-size="80%" baseline-shift="2.20px">+</tspan>CD3<tspan font-size="80%" baseline-shift="2.20px">+</tspan></text><text x="450.10" y="215.60" font-size="7.60" textLength="38.40" lengthAdjust="spacingAndGlyphs" fill="#e0203c">Control 959</text><text x="450.10" y="224.60" font-size="7.60" textLength="22.20" lengthAdjust="spacingAndGlyphs" fill="#2255cc">P2 432</text><text x="474.35" y="289.50" font-size="9.00" text-anchor="middle" textLength="21.50" lengthAdjust="spacingAndGlyphs">CXCR4</text><text x="6.10" y="314.50" font-size="10.60" textLength="5.60" lengthAdjust="spacingAndGlyphs" fill="#000" font-weight="bold" stroke="#000" stroke-width="0.35">F</text><path d="M41.00 391.40 C41.50 390.33 43.08 388.90 44.00 385.00 C44.92 381.10 45.75 373.50 46.50 368.00 C47.25 362.50 47.92 355.75 48.50 352.00 C49.08 348.25 49.57 346.88 50.00 345.50 C50.43 344.12 50.73 343.78 51.10 343.70 C51.47 343.62 51.80 343.62 52.20 345.00 C52.60 346.38 52.95 348.17 53.50 352.00 C54.05 355.83 54.83 363.17 55.50 368.00 C56.17 372.83 56.83 377.50 57.50 381.00 C58.17 384.50 58.93 387.27 59.50 389.00 C60.07 390.73 60.67 391.00 60.90 391.40 L60.90 391.40 L41.00 391.40 Z" fill="#f5c0dc" stroke="none"/><path d="M41.00 391.40 C41.50 390.33 43.08 388.90 44.00 385.00 C44.92 381.10 45.75 373.50 46.50 368.00 C47.25 362.50 47.92 355.75 48.50 352.00 C49.08 348.25 49.57 346.88 50.00 345.50 C50.43 344.12 50.73 343.78 51.10 343.70 C51.47 343.62 51.80 343.62 52.20 345.00 C52.60 346.38 52.95 348.17 53.50 352.00 C54.05 355.83 54.83 363.17 55.50 368.00 C56.17 372.83 56.83 377.50 57.50 381.00 C58.17 384.50 58.93 387.27 59.50 389.00 C60.07 390.73 60.67 391.00 60.90 391.40" fill="none" stroke="#e0203c" stroke-width="1.00" stroke-linejoin="round"/><path d="M40.20 391.40 C40.67 390.50 42.12 389.57 43.00 386.00 C43.88 382.43 44.75 375.67 45.50 370.00 C46.25 364.33 46.95 356.33 47.50 352.00 C48.05 347.67 48.45 345.63 48.80 344.00 C49.15 342.37 49.30 342.12 49.60 342.20 C49.90 342.28 50.17 342.87 50.60 344.50 C51.03 346.13 51.63 348.08 52.20 352.00 C52.77 355.92 53.40 362.83 54.00 368.00 C54.60 373.17 55.20 379.10 55.80 383.00 C56.40 386.90 57.30 390.00 57.60 391.40" fill="none" stroke="#2255cc" stroke-width="1.00" stroke-linejoin="round"/><rect x="30.40" y="319.20" width="57.00" height="72.20" fill="none" stroke="#111" stroke-width="1.40"/><text x="58.60" y="316.20" font-size="9.20" text-anchor="middle" textLength="52.60" lengthAdjust="spacingAndGlyphs">CD1a<tspan font-size="80%" baseline-shift="2.30px">+</tspan>CD7<tspan font-size="80%" baseline-shift="2.30px">+</tspan></text><text x="77.80" y="328.30" font-size="7.60" text-anchor="end" textLength="38.70" lengthAdjust="spacingAndGlyphs" fill="#e0203c">Control 563</text><text x="77.80" y="336.90" font-size="7.60" text-anchor="end" textLength="22.40" lengthAdjust="spacingAndGlyphs" fill="#2255cc">P2 445</text><text x="58.90" y="402.10" font-size="9.20" text-anchor="middle" textLength="18.50" lengthAdjust="spacingAndGlyphs">CD98</text><path d="M109.10 391.40 C109.50 389.83 110.68 386.90 111.50 382.00 C112.32 377.10 113.20 368.00 114.00 362.00 C114.80 356.00 115.67 349.17 116.30 346.00 C116.93 342.83 117.35 343.00 117.80 343.00 C118.25 343.00 118.63 344.80 119.00 346.00 C119.37 347.20 119.65 348.77 120.00 350.20 C120.35 351.63 120.55 353.68 121.10 354.60 C121.65 355.52 122.75 354.80 123.30 355.70 C123.85 356.60 124.05 357.83 124.40 360.00 C124.75 362.17 124.87 365.08 125.40 368.70 C125.93 372.32 126.87 377.92 127.60 381.70 C128.33 385.48 129.43 389.78 129.80 391.40 L129.80 391.40 L109.10 391.40 Z" fill="#f5c0dc" stroke="none"/><path d="M109.10 391.40 C109.50 389.83 110.68 386.90 111.50 382.00 C112.32 377.10 113.20 368.00 114.00 362.00 C114.80 356.00 115.67 349.17 116.30 346.00 C116.93 342.83 117.35 343.00 117.80 343.00 C118.25 343.00 118.63 344.80 119.00 346.00 C119.37 347.20 119.65 348.77 120.00 350.20 C120.35 351.63 120.55 353.68 121.10 354.60 C121.65 355.52 122.75 354.80 123.30 355.70 C123.85 356.60 124.05 357.83 124.40 360.00 C124.75 362.17 124.87 365.08 125.40 368.70 C125.93 372.32 126.87 377.92 127.60 381.70 C128.33 385.48 129.43 389.78 129.80 391.40" fill="none" stroke="#e0203c" stroke-width="1.00" stroke-linejoin="round"/><path d="M107.00 391.40 C107.42 390.17 108.67 387.90 109.50 384.00 C110.33 380.10 111.17 373.67 112.00 368.00 C112.83 362.33 113.78 354.17 114.50 350.00 C115.22 345.83 115.77 344.00 116.30 343.00 C116.83 342.00 117.27 343.52 117.70 344.00 C118.13 344.48 118.55 344.57 118.90 345.90 C119.25 347.23 119.50 349.28 119.80 352.00 C120.10 354.72 120.30 359.42 120.70 362.20 C121.10 364.98 121.60 365.08 122.20 368.70 C122.80 372.32 123.58 380.12 124.30 383.90 C125.02 387.68 126.13 390.15 126.50 391.40" fill="none" stroke="#2255cc" stroke-width="1.00" stroke-linejoin="round"/><rect x="102.60" y="319.20" width="55.90" height="72.20" fill="none" stroke="#111" stroke-width="1.40"/><text x="130.65" y="316.20" font-size="9.20" text-anchor="middle" textLength="51.50" lengthAdjust="spacingAndGlyphs">CD1a<tspan font-size="80%" baseline-shift="2.30px">+</tspan>CD7<tspan font-size="80%" baseline-shift="2.30px">−</tspan></text><text x="149.80" y="328.30" font-size="7.60" text-anchor="end" textLength="39.10" lengthAdjust="spacingAndGlyphs" fill="#e0203c">Control 376</text><text x="149.80" y="336.90" font-size="7.60" text-anchor="end" textLength="22.20" lengthAdjust="spacingAndGlyphs" fill="#2255cc">P2 227</text><text x="130.55" y="402.10" font-size="9.20" text-anchor="middle" textLength="18.50" lengthAdjust="spacingAndGlyphs">CD98</text>
<rect x="0.75" y="0.75" width="518.5" height="412.5" fill="none" stroke="#000" stroke-width="1.5"/>
</svg></body></html>
